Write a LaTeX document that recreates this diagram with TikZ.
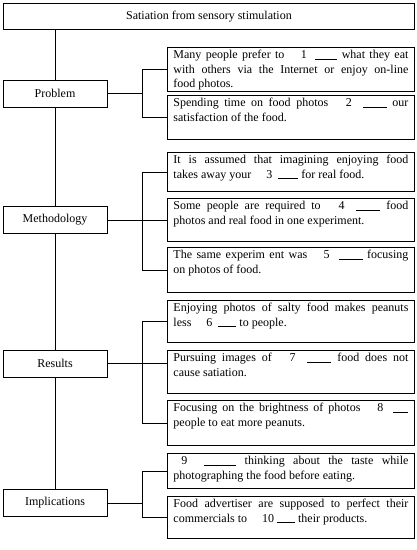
\documentclass[tikz,border=0pt]{standalone}
\usepackage{fontspec}
\setmainfont{Liberation Serif}
\usetikzlibrary{positioning}

\newcommand{\blank}[1]{\rule[-0.6pt]{#1}{0.7pt}}
\newcommand{\boxtext}[2]{\parbox[t][#1][t]{235pt}{#2}}

\tikzset{
  base/.style={draw, line width=0.9pt, font=\fontsize{12}{14.5}\selectfont},
  lbox/.style={base, minimum width=104, minimum height=27, inner sep=0pt},
  rbox/.style={base, anchor=north west, inner xsep=6pt, inner ysep=3pt},
  link/.style={line width=0.9pt}
}

\begin{document}
\begin{tikzpicture}[x=1pt,y=1pt,yscale=-1]
\useasboundingbox (0,0) rectangle (417,550);

\node[base, minimum width=411, minimum height=26, inner sep=0pt, anchor=north west] (title) at (3,3) {Satiation from sensory stimulation};

\node[lbox] (prob) at (55,93.5) {Problem};
\node[lbox] (meth) at (55,220) {Methodology};
\node[lbox] (res) at (55,363.5) {Results};
\node[lbox] (impl) at (55,503) {Implications};

\node[rbox] (p1) at (167,47) {\boxtext{38pt}{Many people prefer to \quad 1 \ \blank{22pt} what they eat\linebreak with others via the Internet or enjoy on-line\linebreak food photos.}};
\node[rbox] (p2) at (167,95) {\boxtext{38pt}{Spending time on food photos \quad 2 \ \blank{24pt} our\linebreak satisfaction of the food.}};

\node[rbox] (p3) at (167,152) {\boxtext{33pt}{It is assumed that imagining enjoying food\linebreak takes away your \quad 3 \ \blank{20pt} for real food.}};
\node[rbox] (p4) at (167,198) {\boxtext{37pt}{Some people are required to \quad 4 \ \blank{24pt} food\linebreak photos and real food in one experiment.}};
\node[rbox] (p5) at (167,247) {\boxtext{39pt}{The same experim ent was \quad 5 \ \blank{24pt} focusing\linebreak on photos of food.}};

\node[rbox] (p6) at (167,300) {\boxtext{36pt}{Enjoying photos of salty food makes peanuts\linebreak less \quad 6 \ \blank{18pt} to people.}};
\node[rbox] (p7) at (167,350) {\boxtext{37pt}{Pursuing images of \quad 7 \ \blank{24pt} food does not\linebreak cause satiation.}};
\node[rbox] (p8) at (167,400) {\boxtext{39pt}{Focusing on the brightness of photos \quad 8 \ \blank{15pt}\linebreak people to eat more peanuts.}};

\node[rbox] (p9) at (167,453) {\boxtext{29pt}{\hspace*{8pt}9 \ \blank{32pt} thinking about the taste while\linebreak photographing the food before eating.}};
\node[rbox] (p10) at (167,496) {\boxtext{36pt}{Food advertiser are supposed to perfect their\linebreak commercials to \quad 10 \blank{18pt} their products.}};

% spine
\draw[link] (title.south -| prob.north) -- (prob.north);
\draw[link] (prob.south) -- (meth.north);
\draw[link] (meth.south) -- (res.north);
\draw[link] (res.south) -- (impl.north);

% branches
\coordinate (bx) at (142,0);
\draw[link] (prob.east) -- (prob.east -| bx);
\draw[link] (p1.west) -- (p1.west -| bx) -- (p2.west -| bx) -- (p2.west);

\draw[link] (meth.east) -- (meth.east -| p4.west);
\draw[link] (p3.west) -- (p3.west -| bx) -- (p5.west -| bx) -- (p5.west);

\draw[link] (res.east) -- (res.east -| p7.west);
\draw[link] (p6.west) -- (p6.west -| bx) -- (p8.west -| bx) -- (p8.west);

\draw[link] (impl.east) -- (impl.east -| bx);
\draw[link] (p9.west) -- (p9.west -| bx) -- (p10.west -| bx) -- (p10.west);
\end{tikzpicture}
\end{document}
